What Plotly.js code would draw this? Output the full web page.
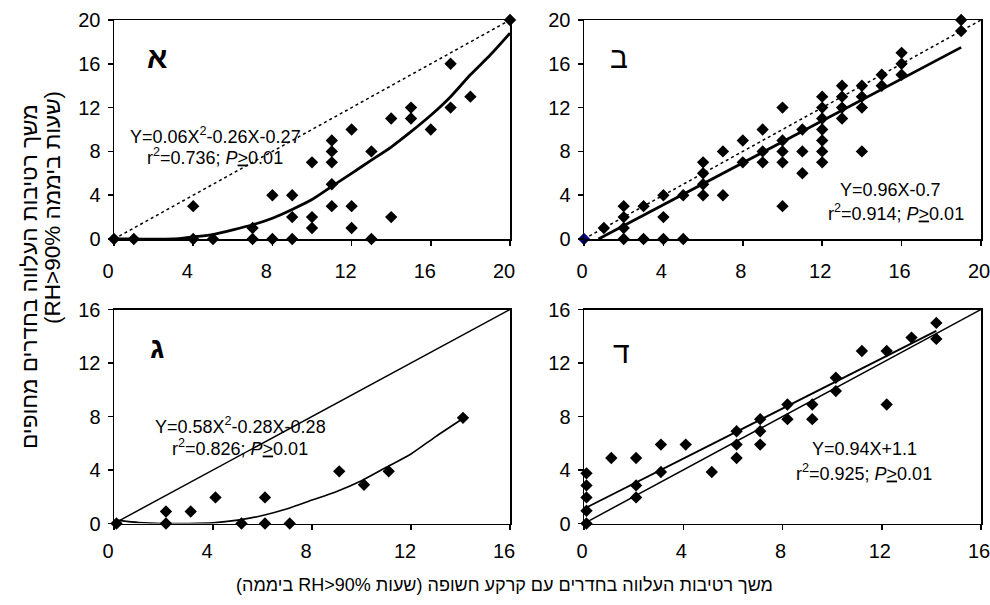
<!DOCTYPE html>
<html>
<head>
<meta charset="utf-8">
<script src="https://cdn.plot.ly/plotly-3.0.1.min.js"></script>
<style>html,body{margin:0;padding:0;background:#fff;}#chart{width:990px;height:605px;}</style>
</head>
<body>
<div id="chart"></div>
<script>
// ---------- DATA ----------
// Panel א
const aX = [0,1,4,4,5,7,7,8,8,9,9,9,10,10,10,11,11,11,11,11,12,12,12,13,13,14,14,15,15,16,17,17,18,20];
const aY = [0,0,3,0,0,1,0,4,0,4,2,0,7,2,1,9,8,7,5,3,10,3,1,8,0,11,2,12,11,10,16,12,13,20];
const aFitX = [0,1,3,4,5,7,8,9,10,11,12,13,14,15,16,17,18,19,20];
const aFitY = [0,0,0,0.2,0.4,1.3,1.9,2.7,3.6,4.8,6.0,7.2,8.4,9.8,11.3,13.0,15.0,16.8,18.8];
const aDiagX = [0,20];
const aDiagY = [0,20];

// Panel ב
const bX = [0,1,2,2,2,2,3,3,4,4,4,5,5,6,6,6,6,7,7,8,8,9,9,9,10,10,10,10,10,11,11,11,12,12,12,12,12,12,12,13,13,13,13,14,14,14,14,15,15,16,16,16,19,19];
const bY = [0,1,3,2,1,0,3,0,4,2,0,4,0,7,6,5,4,8,4,9,7,10,8,7,12,9,8,7,3,10,8,6,13,12,11,10,9,8,7,14,13,12,11,14,13,12,8,15,14,17,16,15,20,19];
const bFitX = [0.73,19];
const bFitY = [0,17.5];
const bDiagX = [0,20];
const bDiagY = [0,20];

// Panel ג
const cX = [0.1,2.1,2.1,3.1,4.1,5.15,6.1,6.1,7.1,9.1,10.1,11.1,14.1];
const cY = [0,0.9,0,0.9,1.95,0,1.95,0,0,3.9,2.9,3.9,7.9];
const cFitX = [0.1,1,2,3,4,5,6,7,8,9,10,11,12,13,14.1];
const cFitY = [0.25,0.07,0,0,0.05,0.25,0.6,1.1,1.75,2.4,3.2,4.2,5.2,6.5,7.85];
const cDiagX = [0,16];
const cDiagY = [0,16];

// Panel ד
const dX = [0.1,0.1,0.1,0.1,0.1,1.1,2.1,2.1,2.1,3.1,3.1,4.1,5.15,6.15,6.15,6.15,7.1,7.1,7.1,8.2,8.2,9.2,9.2,10.15,10.15,11.2,12.2,12.2,13.2,14.2,14.2];
const dY = [0,0.95,1.95,2.85,3.75,4.9,4.9,2.85,1.95,5.9,3.85,5.9,3.85,6.9,5.9,4.9,7.8,6.9,5.9,8.9,7.8,8.9,7.8,10.9,9.9,12.9,12.9,8.9,13.9,15,13.8];
const dFitX = [0.1,14.2];
const dFitY = [1.2,14.4];
const dDiagX = [0,16];
const dDiagY = [0,16];

const topTicks = [0,4,8,12,16,20];
const botTicks = [0,4,8,12,16];

const panelLabels = ['א','ב','ג','ד'];
const eq1 = ['Y=0.06X<sup>2</sup>-0.26X-0.27','Y=0.96X-0.7','Y=0.58X<sup>2</sup>-0.28X-0.28','Y=0.94X+1.1'];
const eq2 = ['r<sup>2</sup>=0.736; <i>P</i><u>&gt;</u>0.01','r<sup>2</sup>=0.914; <i>P</i><u>&gt;</u>0.01','r<sup>2</sup>=0.826; <i>P</i><u>&gt;</u>0.01','r<sup>2</sup>=0.925; <i>P</i><u>&gt;</u>0.01'];
const yTitle1 = 'משך רטיבות העלווה בחדרים מחופים';
const yTitle2 = '(שעות ביממה RH&gt;90%)';
const xTitle = 'משך רטיבות העלווה בחדרים עם קרקע חשופה (שעות RH&gt;90% ביממה)';

// ---------- LAYOUT HELPERS ----------
const W = 990, H = 605;
const px = x => x / W;
const py = y => 1 - y / H;
const RLE = '\u202B', PDF = '\u202C', RLI = '\u2067', PDI = '\u2069', RLM = '\u200F';
const FONT = 'Liberation Sans, Arial, sans-serif';

function mk(x, y, xa, ya, color) {
  return {x: x, y: y, xaxis: xa, yaxis: ya, type: 'scatter', mode: 'markers', cliponaxis: false,
    marker: {symbol: 'diamond', size: 9.5, color: color || '#000', line: {width: 0}}, hoverinfo: 'skip', showlegend: false};
}
function ln(x, y, xa, ya, w, dash) {
  return {x: x, y: y, xaxis: xa, yaxis: ya, type: 'scatter', mode: 'lines', cliponaxis: false,
    line: {color: '#000', width: w, dash: dash || 'solid', shape: 'spline', smoothing: 0.6}, hoverinfo: 'skip', showlegend: false};
}

const bColors = bX.map((v, i) => i === 0 ? '#000080' : '#000');

const traces = [
  ln(aDiagX, aDiagY, 'x', 'y', 1.5, 'dot'),
  ln(aFitX, aFitY, 'x', 'y', 2.8),
  mk(aX, aY, 'x', 'y'),
  ln(bDiagX, bDiagY, 'x2', 'y2', 1.5, 'dot'),
  ln(bFitX, bFitY, 'x2', 'y2', 2.8),
  mk(bX, bY, 'x2', 'y2', bColors),
  ln(cDiagX, cDiagY, 'x3', 'y3', 1.5),
  ln(cFitX, cFitY, 'x3', 'y3', 1.6),
  mk(cX, cY, 'x3', 'y3'),
  ln(dDiagX, dDiagY, 'x4', 'y4', 1.5),
  ln(dFitX, dFitY, 'x4', 'y4', 1.8),
  mk(dX, dY, 'x4', 'y4')
];

function axis(dom, range, ticks, anchor, standoff, shift) {
  const a = {
    domain: dom, range: range, tickvals: ticks, ticktext: ticks.map(String), anchor: anchor,
    showline: true, linecolor: '#000', linewidth: 1.5, mirror: true,
    ticks: 'outside', ticklen: 5, tickwidth: 1.5, tickcolor: '#000',
    showgrid: false, zeroline: false, fixedrange: true,
    ticklabeloverflow: 'allow',
    tickfont: {family: FONT, size: 20, color: '#000'},
    ticklabelstandoff: standoff
  };
  if (shift) a.ticklabelshift = shift;
  return a;
}

const xL = [px(114), px(510)], xR = [px(584), px(981)];
const yT = [py(239), py(20)], yB = [py(523.5), py(309.5)];

const layout = {
  width: W, height: H,
  margin: {l: 0, r: 0, t: 0, b: 0, pad: 0},
  paper_bgcolor: '#fff', plot_bgcolor: '#fff',
  showlegend: false,
  font: {family: FONT, color: '#000'},
  xaxis: axis(xL, [0, 20], topTicks, 'y', 8, -6),
  yaxis: axis(yT, [0, 20], topTicks, 'x', 3),
  xaxis2: axis(xR, [0, 20], topTicks, 'y2', 8, -2),
  yaxis2: axis(yT, [0, 20], topTicks, 'x2', 3),
  xaxis3: axis(xL, [0, 16], botTicks, 'y3', 4, -6),
  yaxis3: axis(yB, [0, 16], botTicks, 'x3', 3),
  xaxis4: axis(xR, [0, 16], botTicks, 'y4', 4, -2),
  yaxis4: axis(yB, [0, 16], botTicks, 'x4', 3),
  annotations: []
};

const ann = (text, x, y, size, extra) => Object.assign({
  text: text, xref: 'paper', yref: 'paper', x: px(x), y: py(y), xanchor: 'center', yanchor: 'middle',
  showarrow: false, font: {family: FONT, size: size, color: '#000'}
}, extra || {});

// panel letters
const letterPos = [[157, 57, true], [619, 57, false], [157, 347, true], [621, 352, false]];
panelLabels.forEach((t, i) => {
  const p = letterPos[i];
  layout.annotations.push(ann(p[2] ? '<b>' + t + '</b>' : t, p[0], p[1], 30));
});
// equations
const eqPos = [[215, 135, 215, 157], [890, 190, 896, 212], [240, 425, 240, 447], [864, 449, 864, 472]];
eqPos.forEach((p, i) => {
  layout.annotations.push(ann(eq1[i], p[0], p[1], 18));
  layout.annotations.push(ann(eq2[i], p[2], p[3], 18));
});
// axis titles
layout.annotations.push(ann(RLM + RLI + yTitle1 + PDI + RLM, 30, 277, 22.5, {textangle: -90}));
layout.annotations.push(ann(RLM + RLI + yTitle2 + PDI + RLM, 52, 208, 22.5, {textangle: -90}));
layout.annotations.push(ann(RLE + xTitle + PDF, 505, 585, 18));

Plotly.newPlot('chart', traces, layout, {staticPlot: true, displayModeBar: false});
</script>
</body>
</html>
